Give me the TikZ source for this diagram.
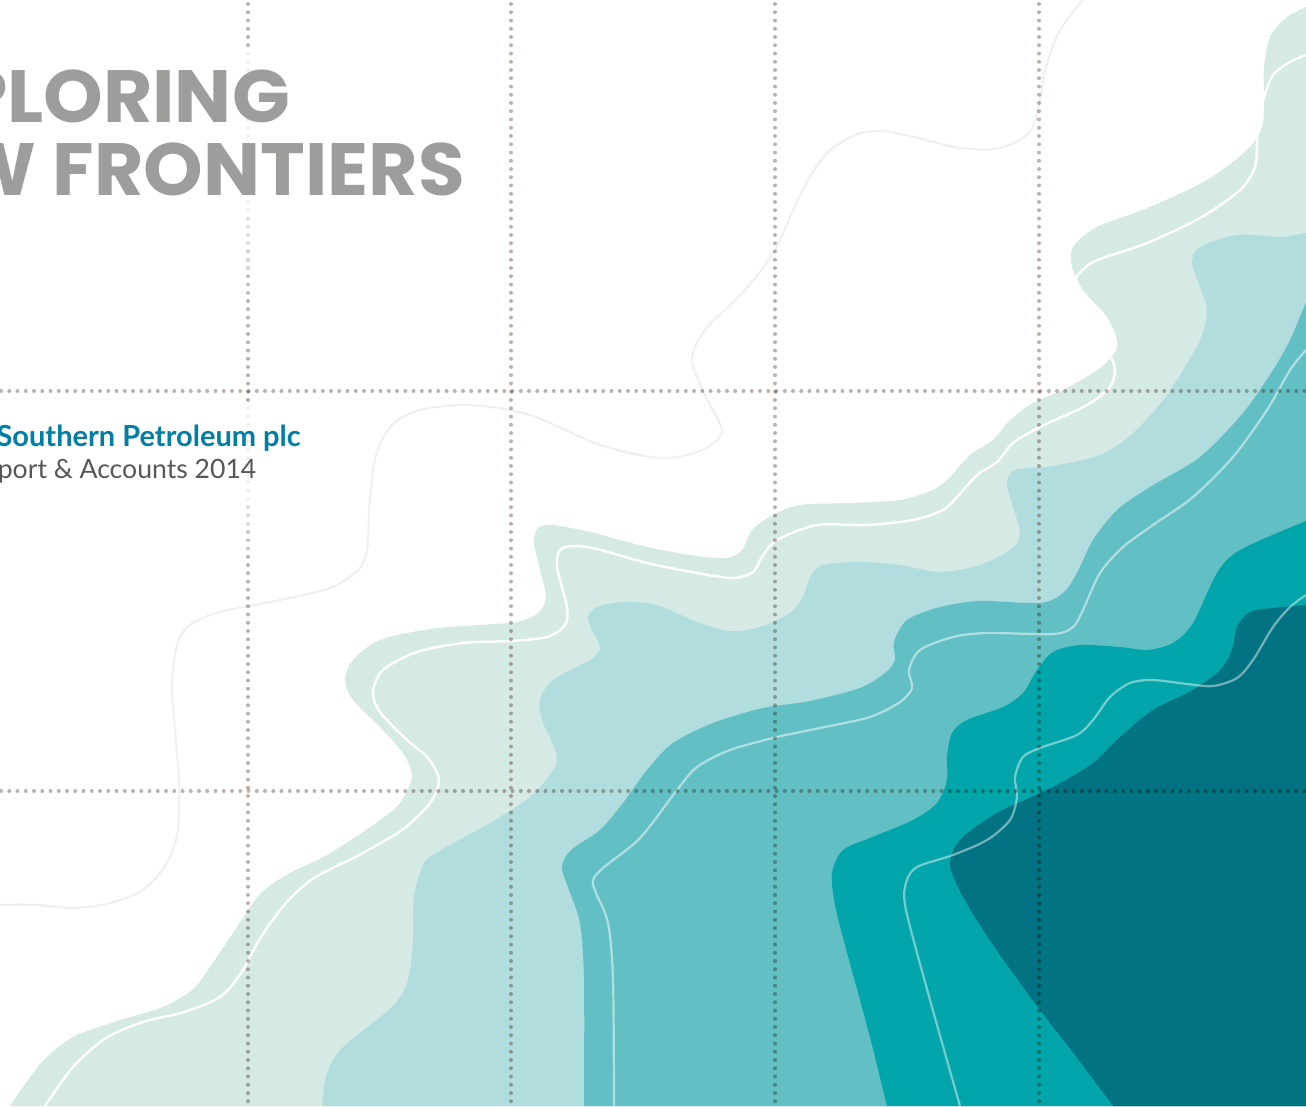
\documentclass[tikz,border=0pt]{standalone}
\usepackage{fontspec}
\setmainfont{Lato}
\newfontfamily\titlefont{Poppins}
\definecolor{paleT}{HTML}{D5E9E5}
\definecolor{lightT}{HTML}{B1DDDF}
\definecolor{midT}{HTML}{62BFC4}
\definecolor{strongT}{HTML}{02A5A9}
\definecolor{deepT}{HTML}{017382}
\definecolor{dotC}{HTML}{C0B1A6}
\definecolor{titleC}{HTML}{9D9D9C}
\definecolor{brandC}{HTML}{007EA3}
\definecolor{bodyC}{HTML}{575756}
\tikzset{
 contour/.style={smooth,tension=0.5},
 dotrule/.style={line cap=round,line width=4pt,dash pattern=on 0pt off 8.25pt},
 titletext/.style={anchor=base east,inner sep=0pt,text=titleC,font=\titlefont\bfseries\fontsize{74}{74}\selectfont},
 infotext/.style={anchor=base east,inner sep=0pt},
}
\begin{document}
\begin{tikzpicture}[x=1pt,y=-1pt]
\useasboundingbox (0,0) rectangle (1306,1106);
\clip (0,0) rectangle (1306,1106);
\fill[white] (0,0) rectangle (1306,1106);
% grey contour on white
\draw[line width=2.2pt,black!6] plot[contour] coordinates {(0,905)(37,905)(73,908)(110,903)(143,890)(167,863)(178,830)(179,780)(175,730)(172,685)(177,645)(190,625)(220,612)(280,600)(330,588)(358,570)(367,550)(370,500)(376,455)(392,425)(420,410)(470,405)(530,415)(600,445)(660,458)(700,451)(722,432)(705,395)(692,360)(705,330)(745,290)(775,250)(800,195)(825,155)(855,135)(880,131)(910,136)(960,148)(1000,148)(1030,132)(1040,100)(1045,70)(1060,30)(1083,0)};
% layers
\fill[paleT] plot[contour] coordinates {(10,1106)(41,1063)(73,1037)(114,1022)(163,1007)(192,990)(208,970)(233,933)(261,893)(290,873)(327,855)(376,823)(400,803)(412,777)(403,753)(380,727)(353,700)(345,680)(353,660)(380,640)(430,629)(480,625)(517,622)(538,613)(546,597)(540,570)(534,543)(538,528)(553,525)(590,532)(647,547)(697,556)(727,558)(742,550)(752,530)(773,515)(800,505)(850,503)(900,500)(933,490)(950,477)(970,455)(993,440)(1010,420)(1033,403)(1067,388)(1100,368)(1115,352)(1117,340)(1107,317)(1083,290)(1072,267)(1073,247)(1097,227)(1150,207)(1207,180)(1247,150)(1262,127)(1264,100)(1264,67)(1270,37)(1287,17)(1306,7)} -- (1306,1106) -- cycle;
\draw[line width=2.4pt,white] plot[contour] coordinates {(45,1106)(73,1067)(106,1038)(143,1022)(184,1012)(220,997)(241,973)(261,937)(286,903)(314,878)(359,855)(402,830)(430,803)(439,780)(428,758)(407,740)(380,712)(373,692)(383,670)(417,652)(463,643)(510,641)(547,637)(565,625)(567,607)(557,567)(560,550)(573,546)(597,549)(647,563)(697,573)(733,578)(753,572)(762,557)(777,540)(817,525)(867,525)(913,520)(943,510)(957,497)(977,475)(997,462)(1013,443)(1040,427)(1087,405)(1110,387)(1115,370)(1111,357)};
\draw[line width=2.4pt,white] plot[contour] coordinates {(1075,279)(1093,262)(1147,243)(1200,218)(1240,190)(1255,167)(1257,142)(1259,120)(1264,97)(1273,75)(1290,62)(1306,55)};
\fill[lightT] plot[contour] coordinates {(322,1106)(327,1073)(343,1047)(392,1007)(408,980)(413,940)(414,897)(424,863)(441,850)(490,823)(530,797)(552,772)(557,757)(550,737)(542,720)(540,700)(553,680)(590,660)(600,648)(592,630)(588,617)(597,607)(623,602)(657,605)(697,622)(730,631)(760,627)(790,613)(803,597)(810,577)(823,565)(860,562)(900,565)(940,572)(980,565)(1013,548)(1020,532)(1013,507)(1007,483)(1015,470)(1053,466)(1100,455)(1133,433)(1167,395)(1200,340)(1207,310)(1200,287)(1192,263)(1200,247)(1237,235)(1280,237)(1306,233)} -- (1306,1106) -- cycle;
\fill[midT] plot[contour] coordinates {(584,1106)(584,980)(580,923)(569,890)(562,867)(571,850)(600,830)(623,803)(647,770)(673,743)(713,723)(763,708)(810,701)(860,688)(885,673)(895,660)(894,642)(907,620)(940,607)(980,601)(1040,603)(1063,593)(1077,573)(1093,540)(1117,510)(1150,487)(1200,457)(1243,413)(1273,370)(1290,340)(1306,302)} -- (1306,1106) -- cycle;
\fill[strongT] plot[contour] coordinates {(887,1106)(872,1045)(860,1000)(845,945)(835,905)(832,873)(843,850)(870,838)(913,820)(937,803)(947,780)(947,757)(952,733)(967,720)(1003,707)(1023,693)(1037,670)(1053,652)(1080,645)(1120,647)(1147,650)(1173,643)(1193,623)(1217,573)(1240,550)(1306,521)} -- (1306,1106) -- cycle;
\draw[line width=2.2pt,white,opacity=.5] plot[contour] coordinates {(614,1106)(613,980)(608,923)(596,893)(593,880)(604,867)(640,838)(677,790)(697,767)(730,750)(777,737)(820,728)(870,717)(900,702)(912,688)(909,670)(920,650)(953,637)(987,633)(1053,634)(1073,627)(1083,610)(1100,573)(1123,547)(1153,525)(1193,497)(1233,457)(1267,410)(1290,370)(1306,350)};
\fill[deepT] plot[contour] coordinates {(1113,1106)(1075,1055)(1040,1010)(1005,962)(980,925)(962,895)(950,865)(960,840)(997,813)(1053,787)(1093,763)(1120,737)(1153,710)(1193,690)(1220,670)(1232,650)(1237,627)(1250,612)(1273,608)(1306,605)} -- (1306,1106) -- cycle;
\draw[line width=2.2pt,white,opacity=.45] plot[contour] coordinates {(960,1106)(930,1000)(906,910)(906,883)(917,867)(953,855)(987,840)(1010,820)(1017,797)(1015,777)(1023,757)(1040,748)(1077,735)(1093,720)(1110,697)(1130,683)(1153,680)(1187,684)(1213,686)(1237,678)(1253,660)(1273,627)(1290,607)(1306,595)};
% grid
\begin{scope}[blend mode=multiply]
\draw[dotrule,dotC] (1,391) -- (1306,391);
\draw[dotrule,dotC] (1,791) -- (1306,791);
\foreach \a/\b/\c in {0/5/100,6/25/22,26/29/45,30/32/65,33/35/85,36/48/100,49/60/22,61/63/50,64/66/75,67/134/100}
  \draw[dotrule,draw=dotC!\c] (248,{4+8.25*\a}) -- (248,{4.5+8.25*\b});
\draw[dotrule,dotC] (511,4) -- (511,1106);
\draw[dotrule,dotC] (775,4) -- (775,1106);
\draw[dotrule,dotC] (1039,4) -- (1039,1106);
\end{scope}
% text
\node[titletext] (t1) at (290,122.7) {\scalebox{1.025}[1]{PLORING}};
\node[titletext] (t2) at (465,195) {\scalebox{1.025}[1]{W FRONTIERS}};
\node[infotext,text=brandC,font=\bfseries\fontsize{29}{32}\selectfont] (t3) at (301,446) {Southern Petroleum plc};
\node[infotext,text=bodyC,font=\fontsize{26.6}{32}\selectfont] (t4) at (256.5,478) {port \& Accounts 2014};
\end{tikzpicture}
\end{document}
